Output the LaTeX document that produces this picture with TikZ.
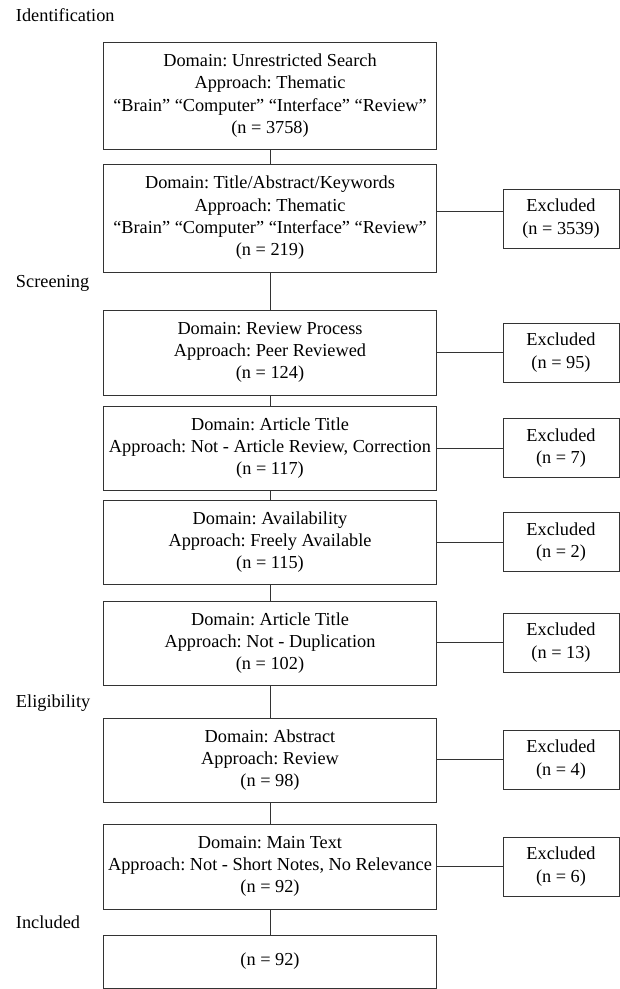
\documentclass[tikz,border=0pt]{standalone}
\usepackage{fontspec}
\setmainfont{Liberation Serif}
\frenchspacing

\begin{document}
\begin{tikzpicture}
    \tikzset{x={(1pt, 0pt)}, y={(0pt, -1pt)}}
    \tikzset{txt/.style={font=\fontsize{18.3}{22.3}\selectfont},
             stage/.style={txt, draw=black!80, line width=1pt, minimum width=333, minimum height=84, inner sep=0, align=center},
             excl/.style={stage, minimum width=116, minimum height=59},
             phase/.style={txt, anchor=west, inner sep=0},
             link/.style={draw=black!80, line width=1pt}}
    \useasboundingbox (0, 0) rectangle (620, 989);
    \node[phase] (idf) at (15.8, 15) {Identification};
    \node[phase] (scr) at (15.8, 283) {Screening};
    \node[phase] (elg) at (15.8, 703) {Eligibility};
    \node[phase] (inc) at (15.8, 922) {Included};
    \node[stage, minimum height=107] (b1) at (270, 95.5) {Domain: Unrestricted Search\\Approach: Thematic\\“Brain” “Computer” “Interface” “Review”\\(n = 3758)};
    \node[stage, minimum height=108] (b2) at (270, 218) {Domain: Title/Abstract/Keywords\\Approach: Thematic\\“Brain” “Computer” “Interface” “Review”\\(n = 219)};
    \node[stage, minimum height=85] (b3) at (270, 352.5) {Domain: Review Process\\Approach: Peer Reviewed\\(n = 124)};
    \node[stage] (b4) at (270, 448) {Domain: Article Title\\Approach: Not - Article Review, Correction\\(n = 117)};
    \node[stage] (b5) at (270, 542) {Domain: Availability\\Approach: Freely Available\\(n = 115)};
    \node[stage] (b6) at (270, 643) {Domain: Article Title\\Approach: Not - Duplication\\(n = 102)};
    \node[stage] (b7) at (270, 760) {Domain: Abstract\\Approach: Review\\(n = 98)};
    \node[stage, minimum height=85] (b8) at (270, 866.5) {Domain: Main Text\\Approach: Not - Short Notes, No Relevance\\(n = 92)};
    \node[stage, minimum height=53] (b9) at (270, 961.5) {(n = 92)};
    \node[excl] (e1) at (561, 218.5) {Excluded\\(n = 3539)};
    \node[excl] (e2) at (561, 352.5) {Excluded\\(n = 95)};
    \node[excl] (e3) at (561, 448) {Excluded\\(n = 7)};
    \node[excl] (e4) at (561, 542) {Excluded\\(n = 2)};
    \node[excl] (e5) at (561, 642.5) {Excluded\\(n = 13)};
    \node[excl] (e6) at (561, 759.5) {Excluded\\(n = 4)};
    \node[excl] (e7) at (561, 866.5) {Excluded\\(n = 6)};
    \coordinate (j1) at (470, 211);
    \foreach \a/\b in {b1/b2, b2/b3, b3/b4, b4/b5, b5/b6, b6/b7, b7/b8, b8/b9}
        \draw[link] (\a) -- (\b);
    \draw[link] (b2.east |- j1) -- (e1.west |- j1);
    \foreach \a/\b in {b3/e2, b4/e3, b5/e4, b6/e5, b7/e6, b8/e7}
        \draw[link] (\b.west) -- (\a.east |- \b.west);
\end{tikzpicture}
\end{document}
